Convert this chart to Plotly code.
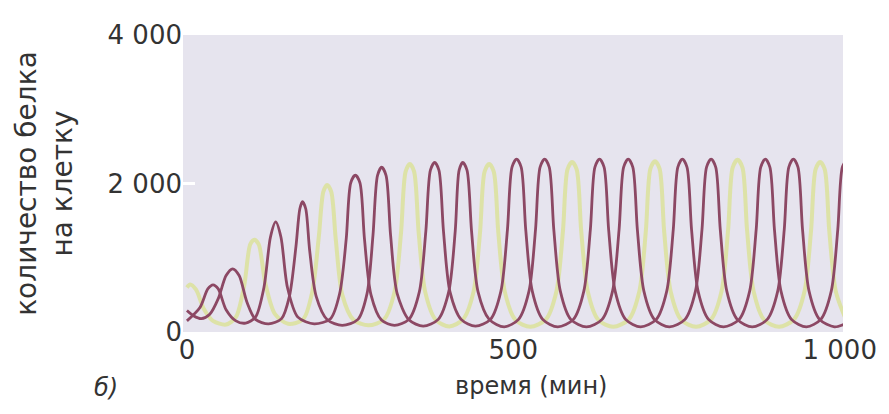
import plotly.graph_objects as go

# Protein A (dark curve 1)
t_a = [0, 20, 32, 40, 48, 60, 75, 90, 105, 118, 128, 136, 144, 154, 170, 195,
       220, 234, 244, 251, 258, 265, 272, 282, 298, 318, 340, 356, 366, 373, 379.5,
       386, 393, 403, 420, 442, 465, 481, 491, 498, 505, 512, 519, 529, 545, 568,
       592, 608, 618, 625, 632, 639, 646, 656, 672, 695, 719, 735, 745, 752, 759,
       766, 773, 783, 799, 822, 846, 862, 872, 879, 886, 893, 900, 910, 926, 949,
       971, 987, 997, 1004, 1011]
protein_a = [150, 330, 580, 635, 580, 300, 150, 120, 200, 600, 1280, 1482, 1280, 600, 200, 110,
             180, 520, 1250, 2010, 2111, 2010, 1250, 500, 160, 90, 170, 540, 1360, 2180, 2284,
             2180, 1360, 540, 170, 80, 170, 550, 1380, 2220, 2328, 2220, 1380, 550, 170, 70,
             170, 550, 1380, 2220, 2328, 2220, 1380, 550, 170, 70, 170, 550, 1380, 2220, 2328,
             2220, 1380, 550, 170, 70, 170, 550, 1380, 2220, 2328, 2220, 1380, 550, 170, 70,
             170, 550, 1380, 2220, 2328]

# Protein B (dark curve 2)
t_b = [0, 10, 22, 35, 48, 60, 70, 80, 92, 105, 125, 145, 157, 167, 173, 177, 182, 188,
       198, 215, 238, 262, 276, 285, 292, 298.3, 305, 312, 322, 340, 362, 385, 401, 411,
       417, 422.5, 429, 436, 446, 463, 486, 508, 524, 534, 541, 548, 555, 562, 572, 588,
       612, 636, 652, 662, 669, 676, 683, 690, 700, 716, 739, 763, 779, 789, 796, 803,
       810, 817, 827, 843, 866, 889, 905, 915, 922, 929, 936, 943, 953, 969, 992, 1008]
protein_b = [290, 220, 180, 240, 450, 760, 851, 760, 400, 170, 110, 180, 480, 1150, 1660, 1755, 1660, 1100,
             480, 165, 90, 170, 520, 1300, 2110, 2219, 2110, 1300, 520, 165, 80, 170, 540, 1360,
             2180, 2284, 2180, 1360, 540, 170, 70, 170, 550, 1380, 2220, 2328, 2220, 1380, 550, 170,
             70, 170, 550, 1380, 2220, 2328, 2220, 1380, 550, 170, 70, 170, 550, 1380, 2220, 2328,
             2220, 1380, 550, 170, 70, 170, 550, 1380, 2220, 2328, 2220, 1380, 550, 170, 70, 110]

# Protein C (light yellow curve)
t_c = [0, 5, 14, 26, 40, 60, 75, 88, 97, 103.3, 110, 120, 135, 155, 178, 192, 202, 209,
       214.7, 221, 228, 238, 255, 278, 302, 318, 328, 335, 341.5, 348, 355, 365, 381, 402,
       423, 439, 449, 456, 463, 470, 477, 487, 503, 526, 550, 566, 576, 583, 590, 597, 604,
       614, 630, 653, 677, 693, 703, 710, 717, 724, 731, 741, 757, 780, 803, 819, 829, 836,
       843.5, 851, 858, 868, 884, 907, 930, 946, 956, 963, 970, 977, 984, 994, 1008]
protein_c = [600, 640, 570, 310, 150, 100, 200, 640, 1180, 1242, 1180, 660, 240, 110, 170, 540, 1280, 1890,
             1981, 1890, 1250, 500, 165, 90, 170, 540, 1340, 2160, 2263, 2160, 1340, 540, 165, 75,
             170, 540, 1340, 2160, 2263, 2160, 1340, 540, 165, 70, 170, 545, 1360, 2190, 2290, 2190, 1360,
             545, 165, 70, 170, 545, 1360, 2200, 2300, 2200, 1360, 545, 165, 70, 170, 550, 1375, 2215,
             2320, 2215, 1375, 550, 165, 70, 170, 545, 1360, 2190, 2290, 2190, 1360, 545, 200]

y_tickvals = [0, 2000, 4000]
y_ticktext = ["0", "2 000", "4 000"]
x_tickvals = [0, 500, 1000]
x_ticktext = ["0", "500", "1 000"]

FONT = "DejaVu Sans"
TXT = "#333333"
DARK = "#8c4864"

fig = go.Figure()
fig.add_trace(go.Scatter(x=t_c, y=protein_c, mode="lines",
                         line=dict(color="rgba(214,224,110,0.55)", width=4, shape="spline", smoothing=0.8),
                         showlegend=False, hoverinfo="skip"))
fig.add_trace(go.Scatter(x=t_a, y=protein_a, mode="lines",
                         line=dict(color=DARK, width=2.8, shape="spline", smoothing=0.8),
                         showlegend=False))
fig.add_trace(go.Scatter(x=t_b, y=protein_b, mode="lines",
                         line=dict(color=DARK, width=2.8, shape="spline", smoothing=0.8),
                         showlegend=False))

# page body has an 8px margin, so the figure is sized to fit the 889x414 window
fig.update_layout(
    width=881, height=406,
    margin=dict(l=175, r=41, t=17, b=82),
    paper_bgcolor="white",
    plot_bgcolor="#e6e4ee",
    font=dict(family=FONT, color=TXT, size=26),
    xaxis=dict(range=[-6, 1005], tickvals=x_tickvals, ticktext=x_ticktext,
               showgrid=False, zeroline=False, showline=False, ticks="",
               tickfont=dict(size=26, family=FONT, color=TXT)),
    yaxis=dict(range=[0, 4000], tickvals=y_tickvals, ticktext=y_ticktext,
               showgrid=False, zeroline=False, showline=False,
               ticks="inside", tickcolor="white", ticklen=12, tickwidth=3,
               tickfont=dict(size=26, family=FONT, color=TXT),
               title=dict(text="количество белка<br>на клетку", font=dict(size=28, family=FONT, color=TXT), standoff=26)),
)
fig.add_annotation(x=(534 - 183) / 665, y=(332 - 388) / 307, xref="paper", yref="paper",
                   text="время (мин)", showarrow=False, xanchor="center", yanchor="middle",
                   font=dict(size=24, family=FONT, color=TXT))
fig.add_annotation(x=(105 - 183) / 665, y=(332 - 390) / 307, xref="paper", yref="paper",
                   text="<i>б)</i>", showarrow=False, xanchor="center", yanchor="middle",
                   font=dict(size=24, family=FONT, color=TXT))

fig.write_html("out.html")
